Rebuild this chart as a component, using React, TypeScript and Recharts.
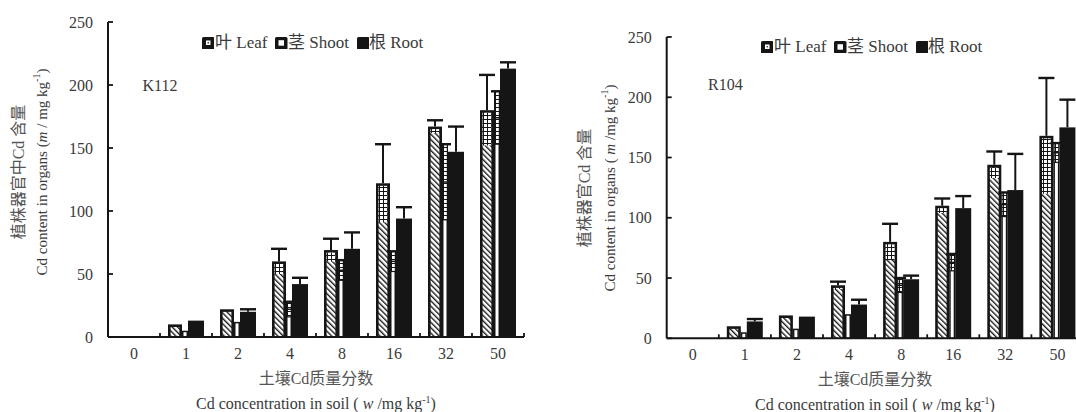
import React from 'react';
import { BarChart, Bar, XAxis, YAxis, Legend } from 'recharts';

const categories = ['0', '1', '2', '4', '8', '16', '32', '50'];
const yTicks = [0, 50, 100, 150, 200, 250];

// K112 panel
const leafK = [0, 10, 22, 60, 69, 122, 167, 180];
const leafErrK = [0, 0, 0, 10, 9, 31, 5, 28];
const shootK = [0, 5, 12, 22, 53, 60, 123, 174];
const shootErrK = [0, 0, 0, 6, 8, 8, 30, 21];
const rootK = [0, 13, 20, 42, 70, 94, 147, 213];
const rootErrK = [0, 0, 2, 5, 13, 9, 20, 5];

// R104 panel
const leafR = [0, 10, 19, 44, 80, 110, 144, 168];
const leafErrR = [0, 0, 0, 3, 15, 6, 11, 48];
const shootR = [0, 5, 8, 20, 44, 63, 111, 154];
const shootErrR = [0, 0, 0, 0, 6, 7, 10, 8];
const rootR = [0, 14, 18, 28, 49, 108, 123, 175];
const rootErrR = [0, 2, 0, 4, 3, 10, 30, 23];

const buildRows = (
  leaf: number[], leafErr: number[], shoot: number[], shootErr: number[], root: number[], rootErr: number[]
) =>
  categories.map((cat, i) => ({
    cat,
    leaf: leaf[i], leafErr: leafErr[i],
    shoot: shoot[i], shootErr: shootErr[i],
    root: root[i], rootErr: rootErr[i],
  }));

const dataK = buildRows(leafK, leafErrK, shootK, shootErrK, rootK, rootErrK);
const dataR = buildRows(leafR, leafErrR, shootR, shootErrR, rootR, rootErrR);

const FONT = "'Liberation Serif', 'Times New Roman', 'Noto Sans CJK SC', serif";
const INK = '#151515';
const TXT = '#3a3a3a';

const Whisker = ({ cx, top, len, cap }: { cx: number; top: number; len: number; cap: number }) => (
  <g>
    <line x1={cx} x2={cx} y1={top} y2={top - len} stroke={INK} strokeWidth={2} />
    <line x1={cx - cap / 2} x2={cx + cap / 2} y1={top - len} y2={top - len} stroke={INK} strokeWidth={2.4} />
  </g>
);

const LeafShape = (props: any) => {
  const { x, y, width, height, payload } = props;
  const v = payload.leaf;
  const e = payload.leafErr;
  if (!v || !(height > 0)) return <g />;
  const ppu = height / v;
  const errPx = e * ppu;
  const b = 2.6;
  const bottom = y + height;
  const ix = x + b;
  const iw = Math.max(width - 2 * b, 0);
  const iy = y + b;
  const gridBottom = Math.min(y + errPx, bottom);
  const cx = x + width / 2;
  return (
    <g>
      <rect x={x} y={y} width={width} height={height} fill={INK} />
      {height > b && <rect x={ix} y={iy} width={iw} height={bottom - iy} fill="url(#hatch)" />}
      {errPx > b + 1 && <rect x={ix} y={iy} width={iw} height={gridBottom - iy} fill="url(#grid)" />}
      {e > 0 && <Whisker cx={cx} top={y} len={errPx} cap={width + 2} />}
    </g>
  );
};

const ShootShape = (props: any) => {
  const { x, y, width, height, payload } = props;
  const v = payload.shoot;
  const e = payload.shootErr;
  if (!v || !(height > 0)) return <g />;
  const ppu = height / v;
  const errPx = e * ppu;
  const bottom = y + height;
  const cx = x + width / 2;
  const gTop = y - errPx;
  const gBottom = Math.min(y + errPx, bottom);
  return (
    <g>
      <rect x={x + 0.75} y={y + 0.75} width={width - 1.5} height={height - 0.75} fill="#fff" stroke={INK} strokeWidth={1.5} />
      {e > 0 && (
        <g>
          <rect x={x + 0.6} y={gTop} width={width - 1.2} height={gBottom - gTop} fill="url(#grid)" stroke={INK} strokeWidth={1.2} />
          <line x1={x} x2={x + width} y1={y} y2={y} stroke={INK} strokeWidth={1.5} />
          <line x1={cx - 6} x2={cx + 6} y1={gTop} y2={gTop} stroke={INK} strokeWidth={2.4} />
        </g>
      )}
    </g>
  );
};

const RootShape = (props: any) => {
  const { x, y, width, height, payload } = props;
  const v = payload.root;
  const e = payload.rootErr;
  if (!v || !(height > 0)) return <g />;
  const ppu = height / v;
  const errPx = e * ppu;
  const cx = x + width / 2;
  return (
    <g>
      <rect x={x} y={y} width={width} height={height} fill={INK} />
      {e > 0 && <Whisker cx={cx} top={y} len={errPx} cap={width} />}
    </g>
  );
};

const YTick = (props: any) => {
  const { x, y, payload } = props;
  const ax = x + 15;
  return (
    <g>
      <line x1={ax} x2={ax + 5} y1={y} y2={y} stroke={INK} strokeWidth={1.8} />
      <text x={x} y={y} dy="0.35em" textAnchor="end" fontSize={16} fill={TXT} fontFamily={FONT}>
        {payload.value}
      </text>
    </g>
  );
};

const XTick = (props: any) => {
  const { x, y, payload } = props;
  const off = typeof payload.offset === 'number' ? payload.offset : 0;
  return (
    <g>
      <line x1={x + off} x2={x + off} y1={y} y2={y - 4} stroke={INK} strokeWidth={1.8} />
      <text x={x} y={y + 21.5} textAnchor="middle" fontSize={16} fill={TXT} fontFamily={FONT}>
        {payload.value}
      </text>
    </g>
  );
};

const Swatch = ({ kind }: { kind: 'leaf' | 'shoot' | 'root' }) => (
  <svg width={12.5} height={12.5} style={{ display: 'block' }}>
    <rect x={0} y={0} width={12.5} height={12.5} rx={1.6} fill={INK} />
    {kind === 'leaf' && <rect x={4} y={3.5} width={4.5} height={4.5} fill="#fff" />}
    {kind === 'leaf' && <rect x={5.6} y={5.1} width={1.3} height={1.3} fill={INK} />}
    {kind === 'shoot' && <rect x={3.5} y={3.2} width={5.5} height={5.5} fill="#fff" />}
  </svg>
);

const legendItems: { kind: 'leaf' | 'shoot' | 'root'; label: string; box: number; text: number }[] = [
  { kind: 'leaf', label: '叶 Leaf', box: 0, text: 13.5 },
  { kind: 'shoot', label: '茎 Shoot', box: 73.5, text: 86.5 },
  { kind: 'root', label: '根 Root', box: 155, text: 167.5 },
];

const LegendContent = () => (
  <div
    style={{
      position: 'relative',
      width: 240,
      height: 18,
      fontFamily: FONT,
      fontSize: 17,
      color: TXT,
      whiteSpace: 'nowrap',
      lineHeight: '18px',
    }}
  >
    {legendItems.map((it) => (
      <React.Fragment key={it.kind}>
        <div style={{ position: 'absolute', left: it.box, top: 3 }}>
          <Swatch kind={it.kind} />
        </div>
        <span style={{ position: 'absolute', left: it.text, top: 0 }}>{it.label}</span>
      </React.Fragment>
    ))}
  </div>
);

const Defs = () => (
  <defs>
    <pattern id="hatch" patternUnits="userSpaceOnUse" width={3.8} height={3.8} patternTransform="rotate(-45)">
      <rect x={0} y={0} width={3.8} height={3.8} fill="#fff" />
      <rect x={0} y={0} width={1.35} height={3.8} fill={INK} />
    </pattern>
    <pattern id="grid" patternUnits="userSpaceOnUse" width={4} height={4}>
      <rect x={0} y={0} width={4} height={4} fill="#fff" />
      <rect x={3} y={0} width={1.1} height={4} fill={INK} />
      <rect x={0} y={3} width={4} height={1.1} fill={INK} />
    </pattern>
  </defs>
);

type PanelProps = {
  data: any[];
  left: number;
  width: number;
  margin: { top: number; right: number; bottom: number; left: number };
  yAxisWidth: number;
  legendLeft: number;
  legendTop: number;
};

const Panel = ({ data, left, width, margin, yAxisWidth, legendLeft, legendTop }: PanelProps) => (
  <div style={{ position: 'absolute', left, top: 0 }}>
    <BarChart width={width} height={412} data={data} margin={margin} barGap={0}>
      <Defs />
      <XAxis
        dataKey="cat"
        type="category"
        interval={0}
        height={30}
        tickLine={false}
        tickSize={0}
        tickMargin={0}
        tick={<XTick />}
        axisLine={{ stroke: INK, strokeWidth: 2 }}
      />
      <YAxis
        type="number"
        domain={[0, 250]}
        ticks={yTicks}
        width={yAxisWidth}
        tickLine={false}
        tickSize={0}
        tickMargin={15}
        tick={<YTick />}
        axisLine={{ stroke: INK, strokeWidth: 2 }}
      />
      <Legend
        layout="vertical"
        verticalAlign="middle"
        align="center"
        content={<LegendContent />}
        wrapperStyle={{ left: legendLeft, top: legendTop, width: 240, height: 18 }}
      />
      <Bar dataKey="leaf" name="叶 Leaf" barSize={14} shape={<LeafShape />} isAnimationActive={false} />
      <Bar dataKey="shoot" name="茎 Shoot" barSize={6} shape={<ShootShape />} isAnimationActive={false} />
      <Bar dataKey="root" name="根 Root" barSize={16} shape={<RootShape />} isAnimationActive={false} />
    </BarChart>
  </div>
);

const Sup = () => (
  <>
    <tspan fontSize={10} dy={-6}>-1</tspan>
    <tspan dy={6}>)</tspan>
  </>
);

const Overlay = () => (
  <svg width={1076} height={412} style={{ position: 'absolute', left: 0, top: 0, pointerEvents: 'none' }} fontFamily={FONT}>
    {/* left panel */}
    <text x={142.5} y={85} dy="0.35em" fontSize={16} fill={TXT}>K112</text>
    <text transform="translate(18.5,172) rotate(-90)" textAnchor="middle" dominantBaseline="central" fontSize={16} fill="#555">
      植株器官中Cd 含量
    </text>
    <text transform="translate(41.5,172) rotate(-90)" textAnchor="middle" dominantBaseline="central" fontSize={15} fill={TXT}>
      Cd content in organs (<tspan fontStyle="italic">m</tspan> / mg kg<Sup />
    </text>
    <text x={316} y={378} dy="0.35em" textAnchor="middle" fontSize={16} fill="#555">土壤Cd质量分数</text>
    <text x={316} y={403} dy="0.35em" textAnchor="middle" fontSize={16} fill={TXT}>
      Cd concentration in soil ( <tspan fontStyle="italic">w</tspan> /mg  kg<Sup />
    </text>

    {/* right panel */}
    <text x={708} y={84.5} dy="0.35em" fontSize={16} fill={TXT}>R104</text>
    <text transform="translate(584.5,188) rotate(-90)" textAnchor="middle" dominantBaseline="central" fontSize={16} fill="#555">
      植株器官Cd 含量
    </text>
    <text transform="translate(610,188) rotate(-90)" textAnchor="middle" dominantBaseline="central" fontSize={15} fill={TXT}>
      Cd content in organs ( <tspan fontStyle="italic">m</tspan> /mg kg<Sup />
    </text>
    <text x={875} y={379} dy="0.35em" textAnchor="middle" fontSize={16} fill="#555">土壤Cd质量分数</text>
    <text x={875} y={404} dy="0.35em" textAnchor="middle" fontSize={16} fill={TXT}>
      Cd concentration in soil ( <tspan fontStyle="italic">w</tspan> /mg kg<Sup />
    </text>
  </svg>
);

export default function App() {
  return (
    <div
      style={{
        position: 'absolute',
        left: 0,
        top: 0,
        width: 1076,
        height: 412,
        overflow: 'hidden',
        background: '#fff',
      }}
    >
      <Panel
        data={dataK}
        left={0}
        width={540}
        margin={{ top: 22, right: 16, bottom: 45, left: 0 }}
        yAxisWidth={108}
        legendLeft={201.5}
        legendTop={33.5}
      />
      <Panel
        data={dataR}
        left={540}
        width={560}
        margin={{ top: 37, right: 16.5, bottom: 43.7, left: 0 }}
        yAxisWidth={126.7}
        legendLeft={220.5}
        legendTop={37.5}
      />
      <Overlay />
    </div>
  );
}
